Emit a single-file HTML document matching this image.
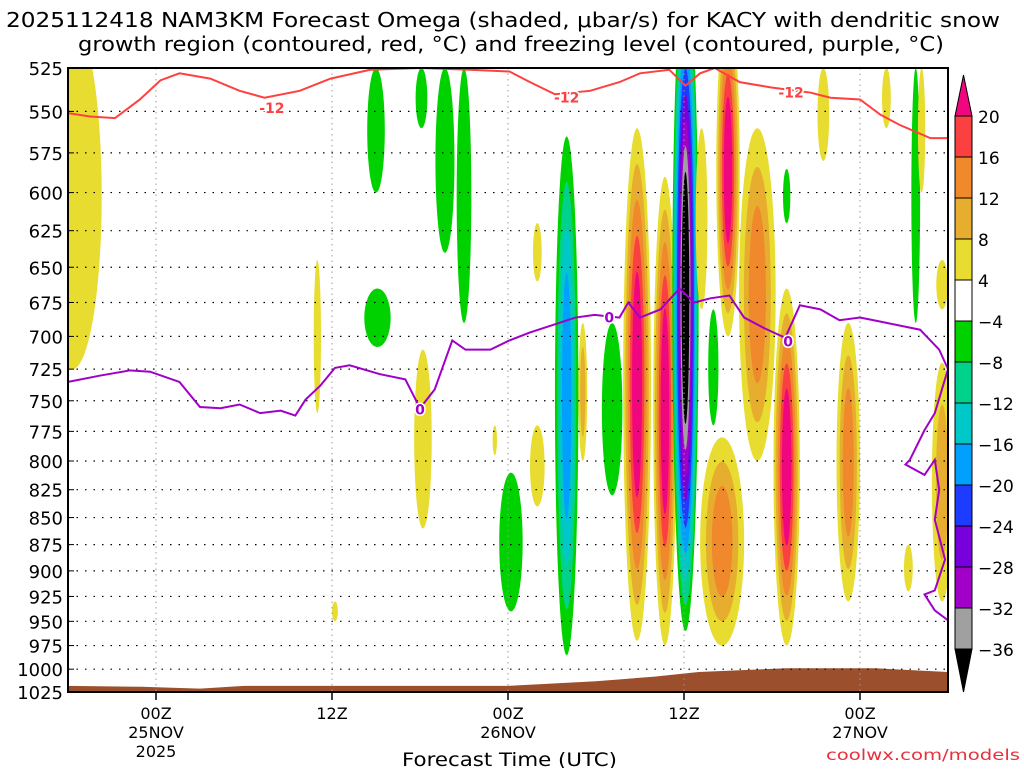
<!DOCTYPE html>
<html><head><meta charset="utf-8"><style>
body{margin:0;background:#fff;width:1024px;height:768px;overflow:hidden}
svg text{font-family:"DejaVu Sans","Liberation Sans",sans-serif}
</style></head><body>
<svg id="chart" width="1024" height="768">
<defs><clipPath id="pc"><rect x="68" y="68" width="880" height="624"/></clipPath></defs>
<g>
<text x="6" y="27" font-size="20" textLength="994" lengthAdjust="spacingAndGlyphs">2025112418 NAM3KM Forecast Omega (shaded, μbar/s) for KACY with dendritic snow</text>
<text x="78" y="51" font-size="20" textLength="866" lengthAdjust="spacingAndGlyphs">growth region (contoured, red, °C) and freezing level (contoured, purple, °C)</text>
</g>
<g id="shade" clip-path="url(#pc)"></g>
<g id="grid"></g>
<g id="lines" clip-path="url(#pc)"></g>
<rect x="68" y="68" width="880" height="624" fill="none" stroke="#000" stroke-width="2"/>
<g id="yax"></g>
<g id="xax"></g>
<text x="402" y="766" font-size="19" textLength="215" lengthAdjust="spacingAndGlyphs">Forecast Time (UTC)</text>
<text x="826" y="760" font-size="15" fill="#e8303a" textLength="194" lengthAdjust="spacingAndGlyphs">coolwx.com/models</text>
<g id="cbar"></g>
</svg>
<script>
const pressureTicks=[525,550,575,600,625,650,675,700,725,750,775,800,825,850,875,900,925,950,975,1000,1025];
const timeTicks=[6,18,30,42,54];
const timeLabels=[["00Z","25NOV","2025"],["12Z"],["00Z","26NOV"],["12Z"],["00Z","27NOV"]];
const cbarLabels=["20","16","12","8","4","−4","−8","−12","−16","−20","−24","−28","−32","−36"];
const posColors=["#e8dc30","#e6ad2e","#f0882c","#fa4040","#f0067f"];
const negColors=["#00d200","#00d28c","#00c8c8","#00a0ff","#1e3cff","#7800dc","#a000c8","#a0a0a0","#000000"];
// blobs: hour, pTop, pBottom, widthHours, peak level
const blobHour=[0.3,21,21.1,25.7,27,24.1,17,18.2,24.2,29.1,32,32,30.2,34,38.8,40.7,42.1,45,47,44.6,49,44,37.1,35.1,43.2,49,53.2,59.6,59.6,57.8,58.2,55.8,57.3,51.5];
const blobTop=[500,525,665,525,525,525,645,930,710,770,620,770,810,565,560,590,470,490,560,780,665,680,690,690,560,585,690,720,645,525,525,525,875,525];
const blobBot=[725,600,708,640,690,560,760,950,860,795,660,840,940,985,970,975,960,700,800,975,975,770,830,800,680,620,930,930,680,690,600,560,920,580];
const blobWidth=[4,1.2,1.8,1.3,1,0.8,0.5,0.4,1.2,0.3,0.6,1,1.6,1.6,1.9,1.6,1.8,1.6,2.5,3,1.8,0.7,1.4,0.6,0.8,0.5,1.6,1.4,0.8,0.6,0.5,0.6,0.6,0.8];
const blobPeak=[1,-1,-1,-1,-1,-1,1,1,1,1,1,1,-1,-4,5,5,-9,5,3,3,5,-1,-1,2,1,-1,3,2,1,-1,1,1,1,1];
const redHour=[0,1.5,3.2,4.9,6.3,7.6,9.7,11.7,13.4,15.8,17.9,20.6,24,27.4,30.1,31.5,33.2,35.6,37.6,39,41,42.1,43.1,44.1,45.8,47.9,50.6,52,54,55.4,56.7,58.8,60];
const redP=[551,553,554,543,532,528,531,538,542,538,531,526,525,526,527,533,540,538,533,528,526,535,528,525,533,536,539,542,543,552,558,566,566];
const purHour=[0,2.2,4.2,5.6,7.6,9,10.4,11.7,13.1,14.5,15.5,16.2,17.2,18.2,19.2,21.3,23,23.7,24,25,26.2,27.1,28.8,30.1,31.5,33.2,34.6,35.9,37.6,38.2,39,40.4,41.7,42.7,43.8,45.1,46.1,47.5,48.9,49.9,51.3,52.6,54,55.4,58.1,59.4,60,59.1,58.4,57.4,57.1,58.4,59.1,59.4,59.1,59.8,59.1,58.4,59.1,60];
const purP=[735,730,726,727,735,755,756,753,760,758,762,749,738,724,722,729,733,749,756,741,703,710,710,703,697,691,686,684,686,675,686,680,665,675,672,670,686,694,701,677,680,688,686,689,695,710,725,760,774,799,803,812,799,825,852,889,919,923,939,949];
const labelPos=[["-12",13.9,548,"#ff4040"],["-12",34,542,"#ff4040"],["-12",49.3,539,"#ff4040"],["0",24,757,"#a000c8"],["0",36.9,686,"#a000c8"],["0",49.1,704,"#a000c8"]];
const terrHour=[0,5,9,12,20,30,36,40,43,49,55,60];
const terrP=[1018,1019,1021,1018,1018,1018,1013,1008,1003,999,999,1003];

const NS="http://www.w3.org/2000/svg";
const X=h=>68+h*880/60;
const Y=p=>68+933*Math.log(p/525);
function mk(tag,attrs,parent){const e=document.createElementNS(NS,tag);for(const k in attrs)e.setAttribute(k,attrs[k]);parent.appendChild(e);return e;}
const shade=document.getElementById('shade');
for(let i=0;i<blobHour.length;i++){
  const cx=X(blobHour[i]),y1=Y(blobTop[i]),y2=Y(blobBot[i]);
  const cy=(y1+y2)/2,ry=(y2-y1)/2,rx=blobWidth[i]*880/60/2;
  const n=Math.abs(blobPeak[i]),cols=blobPeak[i]>0?posColors:negColors;
  for(let k=0;k<n;k++){
    const s=1-k/n*0.8,t=1-k/n*0.7;
    const e=mk('ellipse',{cx:cx,cy:cy,rx:rx*s,ry:ry*t,fill:cols[k]},shade);
    
    
  }
}
let td=`M${X(0)},692 `+terrHour.map((h,i)=>`L${X(h)},${Y(terrP[i])}`).join(' ')+` L${X(60)},692 Z`;
const terr=mk('path',{d:td,fill:'#9c4f2c'},shade);


const grid=document.getElementById('grid');
pressureTicks.forEach(p=>{if(p===525)return;const l=mk('line',{x1:68,x2:948,y1:Y(p),y2:Y(p),stroke:'#000','stroke-width':1.2,'stroke-dasharray':'1.5 7'},grid);

});
timeTicks.forEach(h=>{const l=mk('line',{x1:X(h),x2:X(h),y1:68,y2:692,stroke:'#999','stroke-width':1,'stroke-dasharray':'1.5 4'},grid);

});
const lines=document.getElementById('lines');
const rl=mk('polyline',{points:redHour.map((h,i)=>X(h)+','+Y(redP[i])).join(' '),fill:'none',stroke:'#ff4040','stroke-width':2},lines);


const pl=mk('polyline',{points:purHour.map((h,i)=>X(h)+','+Y(purP[i])).join(' '),fill:'none',stroke:'#a000c8','stroke-width':2},lines);


labelPos.forEach(l=>{const t=mk('text',{x:X(l[1]),y:Y(l[2])+5,fill:l[3],'font-size':14,'font-weight':'bold','text-anchor':'middle',stroke:'#fff','stroke-width':3,'paint-order':'stroke'},lines);t.textContent=l[0];

});
const yax=document.getElementById('yax');
pressureTicks.forEach(p=>{const t=mk('text',{x:63,y:Y(p)+7,'font-size':18,'text-anchor':'end'},yax);t.textContent=p;


mk('line',{x1:68,x2:74,y1:Y(p),y2:Y(p),stroke:'#000'},yax);});
const xax=document.getElementById('xax');
timeTicks.forEach((h,i)=>{mk('line',{x1:X(h),x2:X(h),y1:692,y2:700,stroke:'#000','stroke-width':1.5},xax);
timeLabels[i].forEach((s,j)=>{const t=mk('text',{x:X(h),y:719+j*19,'font-size':16,'text-anchor':'middle'},xax);t.textContent=s;

});});
const cb=document.getElementById('cbar');
const cbCols=["#fa4040","#f0882c","#e6ad2e","#e8dc30","#ffffff","#00d200","#00d28c","#00c8c8","#00a0ff","#1e3cff","#7800dc","#a000c8","#a0a0a0"];
const cy0=116,ch=(649-116)/13;
mk('polygon',{points:`955,${cy0} 972,${cy0} 963.5,75`,fill:'#f0067f',stroke:'#000'},cb);
cbCols.forEach((c,i)=>{mk('rect',{x:955,y:cy0+i*ch,width:17,height:ch,fill:c,stroke:'#000','stroke-width':1},cb);});
const cyEnd=cy0+13*ch;
mk('polygon',{points:`955,${cyEnd} 972,${cyEnd} 963.5,692`,fill:'#000',stroke:'#000'},cb);
cbarLabels.forEach((s,i)=>{const t=mk('text',{x:978,y:cy0+i*ch+7,'font-size':17},cb);t.textContent=s;

});
</script>
</body></html>
